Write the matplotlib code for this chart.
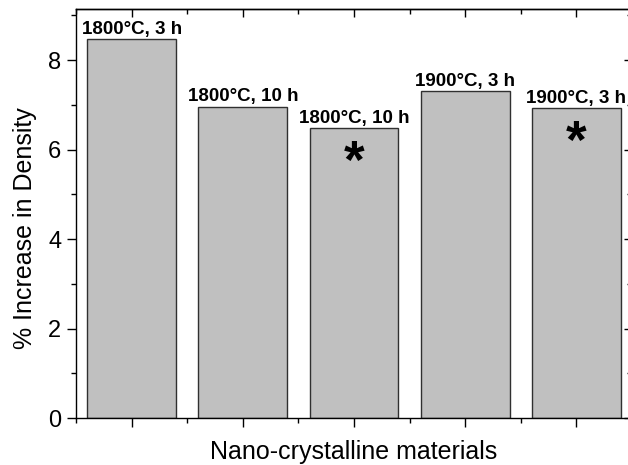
import matplotlib
matplotlib.use("Agg")
import matplotlib.pyplot as plt
from matplotlib.ticker import MultipleLocator, NullFormatter

# =========================
# Data
# =========================
positions = [1, 2, 3, 4, 5]
density_increase = [8.46, 6.96, 6.48, 7.30, 6.92]
bar_labels = [
    "1800°C, 3 h",
    "1800°C, 10 h",
    "1800°C, 10 h",
    "1900°C, 3 h",
    "1900°C, 3 h",
]
starred = [False, False, True, False, True]

plt.rcParams["font.family"] = ["Liberation Sans", "DejaVu Sans"]

W, H = 628, 465
fig = plt.figure(figsize=(W / 100, H / 100), dpi=100)

# axes box in pixels (right spine sits just past the image edge)
left, right, top, bottom = 76, 632, 9, 418
ax = fig.add_axes([
    left / W,
    1 - bottom / H,
    (right - left) / W,
    (bottom - top) / H,
])

ax.bar(
    positions,
    density_increase,
    width=0.8,
    color="#c0c0c0",
    edgecolor="#303030",
    linewidth=1.0,
    zorder=2,
)

for x, v, lab, st in zip(positions, density_increase, bar_labels, starred):
    ax.annotate(
        lab,
        xy=(x, v),
        xytext=(0, 3.8),
        textcoords="offset points",
        ha="center",
        va="baseline",
        fontsize=13.5,
        fontweight="bold",
    )
    if st:
        ax.annotate(
            "*",
            xy=(x, v),
            xytext=(0, -26),
            textcoords="offset points",
            ha="center",
            va="center",
            fontsize=38,
            fontweight="bold",
        )

ax.set_xlim(0.5, 5.5)
ax.set_ylim(0, 9.14)

ax.xaxis.set_major_locator(MultipleLocator(1))
ax.xaxis.set_minor_locator(MultipleLocator(0.5))
ax.xaxis.set_major_formatter(NullFormatter())
ax.yaxis.set_major_locator(MultipleLocator(2))
ax.yaxis.set_minor_locator(MultipleLocator(1))

ax.tick_params(axis="both", which="major", direction="out", length=6.5, width=1.0,
               labelsize=17, pad=4)
ax.tick_params(axis="both", which="minor", direction="out", length=3.5, width=1.0)

# top and right ticks point inward
top_ax = ax.secondary_xaxis("top")
top_ax.xaxis.set_major_locator(MultipleLocator(1))
top_ax.xaxis.set_minor_locator(MultipleLocator(0.5))
top_ax.tick_params(which="major", direction="in", length=6, width=1.0, labeltop=False)
top_ax.tick_params(which="minor", direction="in", length=3.5, width=1.0)

right_ax = ax.secondary_yaxis("right")
right_ax.yaxis.set_major_locator(MultipleLocator(2))
right_ax.yaxis.set_minor_locator(MultipleLocator(1))
right_ax.tick_params(which="major", direction="in", length=6, width=1.0, labelright=False)
right_ax.tick_params(which="minor", direction="in", length=3.5, width=1.0)

for sp in list(ax.spines.values()) + list(top_ax.spines.values()) + list(right_ax.spines.values()):
    sp.set_linewidth(1.0)

ax.set_xlabel("Nano-crystalline materials", fontsize=18, labelpad=5)
ax.set_ylabel("% Increase in Density", fontsize=18)
ax.yaxis.set_label_coords(-0.07, 0.465)

fig.savefig("out.png", dpi=100)
